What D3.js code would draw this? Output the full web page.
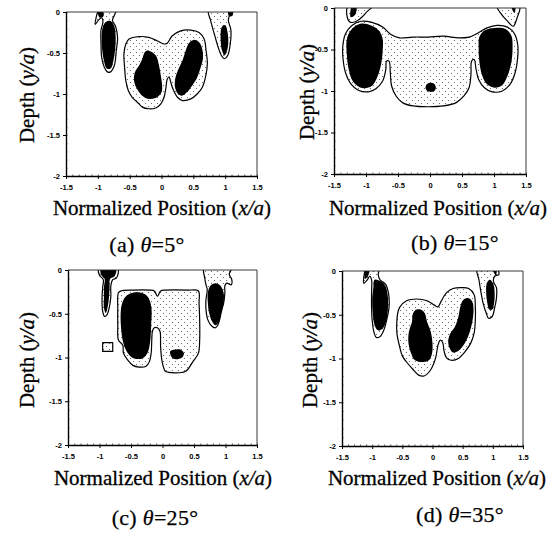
<!DOCTYPE html>
<html>
<head>
<meta charset="utf-8">
<script src="https://cdn.jsdelivr.net/npm/d3@7"></script>
<style>
  body { margin: 0; background: #fff; }
  svg { display: block; }
</style>
</head>
<body>
<svg id="fig" width="552" height="541"></svg>
<script>
// ---- axis ticks -----------------------------------------------------------
const xTicks = [-1.5, -1, -0.5, 0, 0.5, 1, 1.5];
const xTickLabels = ["-1.5", "-1", "-0.5", "0", "0.5", "1", "1.5"];
const yTicks = [0, -0.5, -1, -1.5, -2];
const yTickLabels = ["0", "-0.5", "-1", "-1.5", "-2"];

// ---- panels ---------------------------------------------------------------
const panelLetters = ["a", "b", "c", "d"];
const incidenceAngles = [5, 15, 25, 35];

// Contour polygons, vertices in (x/a, y/a).
// "outer" = lower level (stippled, outlined), "core" = upper level (solid).

// (a) theta = 5
const a_outer_left = [[-0.98,0.02],[-1.03,-0.08],[-1.04,-0.15],[-0.99,-0.10],[-0.94,-0.07],[-0.92,-0.12],[-0.95,-0.22],[-0.95,-0.39],[-0.94,-0.55],[-0.90,-0.67],[-0.85,-0.73],[-0.80,-0.73],[-0.74,-0.65],[-0.71,-0.47],[-0.69,-0.31],[-0.72,-0.18],[-0.77,-0.10],[-0.74,-0.04],[-0.72,0.02]];
const a_outer_mid = [[-0.51,-0.33],[-0.35,-0.30],[-0.20,-0.31],[-0.07,-0.35],[0.04,-0.39],[0.09,-0.38],[0.17,-0.29],[0.30,-0.23],[0.46,-0.22],[0.59,-0.25],[0.67,-0.33],[0.70,-0.47],[0.72,-0.63],[0.69,-0.80],[0.64,-0.92],[0.56,-1.00],[0.46,-1.06],[0.33,-1.08],[0.25,-1.04],[0.18,-0.94],[0.14,-0.84],[0.12,-0.79],[0.09,-0.82],[0.07,-0.92],[0.04,-1.04],[-0.01,-1.12],[-0.09,-1.17],[-0.20,-1.18],[-0.30,-1.16],[-0.38,-1.10],[-0.46,-1.04],[-0.52,-0.96],[-0.56,-0.84],[-0.58,-0.67],[-0.59,-0.51],[-0.56,-0.39]];
const a_outer_right = [[0.74,0.02],[0.77,-0.10],[0.83,-0.27],[0.89,-0.43],[0.94,-0.53],[0.99,-0.57],[1.04,-0.53],[1.08,-0.39],[1.09,-0.22],[1.05,-0.10],[1.07,-0.04],[1.12,0.02]];
const a_core_left = [[-0.87,-0.12],[-0.80,-0.11],[-0.74,-0.18],[-0.72,-0.31],[-0.73,-0.47],[-0.76,-0.61],[-0.80,-0.69],[-0.86,-0.69],[-0.90,-0.61],[-0.93,-0.47],[-0.94,-0.31],[-0.92,-0.18]];
const a_core_midL = [[-0.22,-0.47],[-0.09,-0.53],[-0.04,-0.65],[-0.01,-0.78],[0.01,-0.90],[0.00,-0.98],[-0.07,-1.04],[-0.17,-1.06],[-0.25,-1.05],[-0.33,-1.00],[-0.39,-0.93],[-0.43,-0.84],[-0.42,-0.74],[-0.35,-0.65],[-0.30,-0.57],[-0.27,-0.50]];
const a_core_midR = [[0.51,-0.34],[0.59,-0.37],[0.64,-0.45],[0.65,-0.57],[0.61,-0.69],[0.56,-0.80],[0.48,-0.90],[0.40,-0.98],[0.32,-1.02],[0.25,-0.99],[0.21,-0.91],[0.22,-0.80],[0.27,-0.69],[0.33,-0.59],[0.38,-0.47],[0.43,-0.38]];
const a_core_right = [[0.95,-0.18],[1.00,-0.16],[1.03,-0.22],[1.05,-0.35],[1.03,-0.47],[0.99,-0.53],[0.95,-0.47],[0.93,-0.35],[0.93,-0.24]];
const a_core_capL = [[-1.0,0.02],[-0.93,0.02],[-0.91,-0.05],[-0.97,-0.07]];
const a_core_capR = [[1.05,0.02],[1.12,0.02],[1.11,-0.05],[1.06,-0.05]];

// (b) theta = 15
const b_outer_main = [[-1.08,-0.16],[-0.92,-0.17],[-0.74,-0.23],[-0.61,-0.32],[-0.48,-0.36],[-0.27,-0.35],[-0.03,-0.35],[0.21,-0.34],[0.45,-0.36],[0.61,-0.35],[0.73,-0.31],[0.89,-0.24],[1.05,-0.21],[1.21,-0.23],[1.32,-0.31],[1.37,-0.44],[1.37,-0.60],[1.33,-0.78],[1.25,-0.92],[1.13,-1.00],[0.97,-1.01],[0.85,-0.96],[0.76,-0.86],[0.72,-0.74],[0.69,-0.62],[0.65,-0.64],[0.64,-0.80],[0.61,-0.96],[0.53,-1.06],[0.41,-1.14],[0.21,-1.18],[-0.03,-1.19],[-0.27,-1.18],[-0.43,-1.14],[-0.53,-1.06],[-0.60,-0.94],[-0.62,-0.78],[-0.64,-0.64],[-0.68,-0.64],[-0.69,-0.74],[-0.74,-0.88],[-0.84,-0.97],[-0.96,-1.01],[-1.12,-0.99],[-1.24,-0.91],[-1.32,-0.78],[-1.36,-0.60],[-1.36,-0.44],[-1.32,-0.31],[-1.22,-0.21]];
const b_outer_topL = [[-1.28,0.02],[-1.30,-0.08],[-1.25,-0.17],[-1.15,-0.16],[-1.05,-0.10],[-0.98,-0.04],[-0.90,0.02]];
const b_outer_topR = [[1.05,0.02],[1.12,-0.08],[1.20,-0.15],[1.30,-0.22],[1.36,-0.12],[1.40,0.02]];
const b_core_left = [[-1.09,-0.19],[-0.92,-0.21],[-0.80,-0.27],[-0.74,-0.37],[-0.74,-0.52],[-0.77,-0.70],[-0.84,-0.86],[-0.93,-0.95],[-1.08,-0.96],[-1.20,-0.89],[-1.27,-0.74],[-1.30,-0.56],[-1.30,-0.38],[-1.24,-0.27]];
const b_core_right = [[0.85,-0.27],[1.01,-0.24],[1.17,-0.25],[1.27,-0.33],[1.29,-0.48],[1.27,-0.66],[1.21,-0.82],[1.13,-0.93],[1.01,-0.96],[0.89,-0.92],[0.81,-0.80],[0.77,-0.64],[0.76,-0.48],[0.77,-0.35]];
const b_core_dot = [[0.0,-0.90],[0.06,-0.91],[0.09,-0.95],[0.08,-0.99],[0.03,-1.01],[-0.04,-1.00],[-0.07,-0.96],[-0.05,-0.92]];
const b_core_capL = [[-1.22,0.02],[-1.15,0.02],[-1.17,-0.08],[-1.24,-0.11]];
const b_core_capR = [[1.27,0.02],[1.33,0.02],[1.32,-0.06]];

// (c) theta = 25
const c_outer_left = [[-1.01,0.02],[-0.71,0.02],[-0.73,-0.09],[-0.79,-0.11],[-0.82,-0.18],[-0.82,-0.30],[-0.84,-0.41],[-0.88,-0.51],[-0.92,-0.53],[-0.95,-0.47],[-0.96,-0.34],[-0.95,-0.20],[-0.94,-0.11],[-1.00,-0.06]];
const c_outer_box = [[-0.95,-0.83],[-0.79,-0.83],[-0.79,-0.93],[-0.95,-0.93]];
const c_outer_mid = [[-0.66,-0.24],[-0.47,-0.23],[-0.21,-0.23],[-0.13,-0.24],[-0.08,-0.30],[-0.03,-0.24],[0.05,-0.23],[0.40,-0.23],[0.57,-0.24],[0.58,-0.38],[0.59,-0.57],[0.59,-0.80],[0.57,-0.95],[0.48,-1.05],[0.36,-1.16],[0.05,-1.16],[0.03,-1.14],[-0.01,-1.03],[-0.03,-0.88],[-0.04,-0.70],[-0.08,-0.66],[-0.13,-0.66],[-0.16,-0.70],[-0.17,-0.80],[-0.18,-0.95],[-0.21,-1.05],[-0.26,-1.10],[-0.37,-1.11],[-0.47,-1.09],[-0.55,-1.03],[-0.62,-0.95],[-0.63,-0.86],[-0.70,-0.80],[-0.71,-0.64],[-0.71,-0.45],[-0.70,-0.26]];
const c_outer_right = [[0.66,0.02],[0.67,-0.09],[0.69,-0.17],[0.71,-0.22],[0.69,-0.34],[0.69,-0.45],[0.72,-0.57],[0.78,-0.64],[0.84,-0.66],[0.89,-0.61],[0.92,-0.49],[0.97,-0.38],[0.99,-0.26],[0.99,-0.18],[1.02,-0.15],[1.09,-0.17],[1.10,-0.11],[1.06,-0.05],[1.09,0.02]];
const c_core_left = [[-0.98,0.02],[-0.74,0.02],[-0.76,-0.07],[-0.83,-0.10],[-0.84,-0.20],[-0.85,-0.32],[-0.87,-0.42],[-0.90,-0.49],[-0.93,-0.43],[-0.93,-0.32],[-0.93,-0.20],[-0.92,-0.10],[-0.97,-0.06]];
const c_core_midL = [[-0.58,-0.30],[-0.47,-0.26],[-0.34,-0.26],[-0.24,-0.30],[-0.18,-0.41],[-0.18,-0.64],[-0.20,-0.84],[-0.24,-0.95],[-0.32,-1.01],[-0.45,-1.01],[-0.55,-0.95],[-0.62,-0.84],[-0.66,-0.64],[-0.66,-0.45],[-0.63,-0.36]];
const c_core_midR = [[0.12,-0.93],[0.18,-0.91],[0.29,-0.91],[0.34,-0.95],[0.31,-1.00],[0.21,-1.02],[0.15,-1.00]];
const c_core_right = [[0.76,-0.18],[0.84,-0.15],[0.92,-0.18],[0.97,-0.26],[0.97,-0.38],[0.94,-0.49],[0.90,-0.59],[0.84,-0.63],[0.79,-0.59],[0.74,-0.49],[0.72,-0.38],[0.72,-0.26]];

// (d) theta = 35
const d_outer_left = [[-1.10,0.02],[-1.14,-0.08],[-1.14,-0.14],[-1.08,-0.10],[-1.04,-0.06],[-1.01,-0.10],[-1.01,-0.25],[-1.01,-0.41],[-1.00,-0.56],[-0.97,-0.70],[-0.93,-0.76],[-0.87,-0.75],[-0.81,-0.68],[-0.76,-0.56],[-0.72,-0.41],[-0.73,-0.25],[-0.78,-0.15],[-0.87,-0.10],[-0.90,-0.04],[-0.89,0.02]];
const d_outer_mid = [[-0.54,-0.41],[-0.43,-0.34],[-0.26,-0.32],[-0.09,-0.34],[0.03,-0.39],[0.09,-0.41],[0.14,-0.35],[0.23,-0.25],[0.34,-0.20],[0.49,-0.19],[0.60,-0.20],[0.69,-0.27],[0.71,-0.41],[0.71,-0.56],[0.69,-0.71],[0.63,-0.83],[0.53,-0.93],[0.43,-1.00],[0.31,-1.02],[0.23,-0.99],[0.19,-0.91],[0.17,-0.82],[0.13,-0.79],[0.09,-0.85],[0.06,-0.97],[0.02,-1.06],[-0.04,-1.14],[-0.14,-1.20],[-0.23,-1.19],[-0.33,-1.12],[-0.43,-1.04],[-0.50,-0.97],[-0.55,-0.85],[-0.59,-0.71],[-0.59,-0.56],[-0.57,-0.46]];
const d_outer_right = [[0.74,0.02],[0.77,-0.10],[0.80,-0.23],[0.84,-0.37],[0.89,-0.48],[0.93,-0.54],[0.99,-0.52],[1.03,-0.42],[1.06,-0.31],[1.06,-0.19],[1.01,-0.12],[1.03,-0.06],[1.10,-0.04],[1.07,0.02]];
const d_core_left = [[-0.96,-0.10],[-0.85,-0.12],[-0.78,-0.17],[-0.74,-0.29],[-0.74,-0.44],[-0.77,-0.58],[-0.83,-0.66],[-0.90,-0.68],[-0.96,-0.62],[-0.99,-0.48],[-1.00,-0.33],[-0.98,-0.19]];
const d_core_midL = [[-0.29,-0.45],[-0.20,-0.44],[-0.13,-0.48],[-0.09,-0.58],[-0.03,-0.69],[0.00,-0.83],[-0.01,-0.95],[-0.06,-1.02],[-0.15,-1.04],[-0.29,-1.02],[-0.36,-0.93],[-0.40,-0.81],[-0.39,-0.69],[-0.34,-0.58],[-0.33,-0.50]];
const d_core_midR = [[0.51,-0.33],[0.60,-0.31],[0.66,-0.35],[0.68,-0.44],[0.66,-0.58],[0.61,-0.71],[0.53,-0.83],[0.43,-0.91],[0.34,-0.93],[0.29,-0.89],[0.26,-0.81],[0.29,-0.72],[0.37,-0.64],[0.43,-0.52],[0.46,-0.41]];
const d_core_right = [[0.90,-0.14],[0.95,-0.10],[1.01,-0.15],[1.03,-0.25],[1.02,-0.37],[0.99,-0.44],[0.94,-0.44],[0.91,-0.37],[0.89,-0.25]];
const d_core_capL = [[-1.11,0.02],[-1.05,0.02],[-1.07,-0.06],[-1.12,-0.09]];
const d_core_capR = [[1.00,0.02],[1.06,0.02],[1.05,-0.05]];

// ---- layout (pixel frames and text anchors) -------------------------------
const layout = {
  a: { l: 66,  r: 257, t: 12,  b: 176, ylab: [27, 95],  xlab: [162, 215], cap: [147, 252] },
  b: { l: 334, r: 526, t: 8,   b: 174, ylab: [307, 92], xlab: [438, 215], cap: [455, 250] },
  c: { l: 68,  r: 257, t: 270, b: 445, ylab: [27, 360], xlab: [163, 485], cap: [155, 525] },
  d: { l: 342, r: 523, t: 271, b: 446, ylab: [310, 360], xlab: [437, 485], cap: [460, 522] }
};

const shapes = {
  a: { outer: [a_outer_left, a_outer_mid, a_outer_right],
       core: [a_core_left, a_core_midL, a_core_midR, a_core_right, a_core_capL, a_core_capR] },
  b: { outer: [b_outer_main, b_outer_topL, b_outer_topR],
       core: [b_core_left, b_core_right, b_core_dot, b_core_capL, b_core_capR] },
  c: { outer: [c_outer_left, c_outer_mid, c_outer_right, c_outer_box],
       core: [c_core_left, c_core_midL, c_core_midR, c_core_right] },
  d: { outer: [d_outer_left, d_outer_mid, d_outer_right],
       core: [d_core_left, d_core_midL, d_core_midR, d_core_right, d_core_capL, d_core_capR] }
};

const serif = "'Liberation Serif', 'Times New Roman', serif";
const tickFont = "'Liberation Sans Narrow', 'Liberation Sans', Arial, sans-serif";

const svg = d3.select("#fig");
const defs = svg.append("defs");

// stipple fill for the lower contour level
const stip = defs.append("pattern")
  .attr("id", "stipple").attr("patternUnits", "userSpaceOnUse")
  .attr("width", 6).attr("height", 6);
stip.append("rect").attr("width", 6).attr("height", 6).attr("fill", "#fff");
stip.append("circle").attr("cx", 1.5).attr("cy", 1.5).attr("r", 0.6).attr("fill", "#555");
stip.append("circle").attr("cx", 4.5).attr("cy", 4.5).attr("r", 0.6).attr("fill", "#555");

panelLetters.forEach((id, i) => {
  const L = layout[id];
  const x = d3.scaleLinear().domain([-1.5, 1.5]).range([L.l, L.r]);
  const y = d3.scaleLinear().domain([0, -2]).range([L.t, L.b]);

  const smooth = d3.line().x(d => x(d[0])).y(d => y(d[1]))
    .curve(d3.curveCatmullRomClosed.alpha(0.5));
  const straight = d3.line().x(d => x(d[0])).y(d => y(d[1]))
    .curve(d3.curveLinearClosed);
  const pathOf = d => (d === c_outer_box ? straight(d) : smooth(d));

  defs.append("clipPath").attr("id", "clip-" + id)
    .append("rect").attr("x", L.l).attr("y", L.t)
    .attr("width", L.r - L.l).attr("height", L.b - L.t);

  const g = svg.append("g").attr("class", "panel-" + id);
  const plot = g.append("g").attr("clip-path", `url(#clip-${id})`);

  plot.selectAll("path.outer").data(shapes[id].outer).join("path")
    .attr("class", "outer")
    .attr("d", pathOf)
    .attr("fill", "url(#stipple)")
    .attr("stroke", "#000").attr("stroke-width", 1.2)
    .attr("stroke-linejoin", "round");

  plot.selectAll("path.core").data(shapes[id].core).join("path")
    .attr("class", "core")
    .attr("d", pathOf)
    .attr("fill", "#000");

  // thin top / right frame
  g.append("path")
    .attr("d", `M${L.l},${L.t}H${L.r}V${L.b}`)
    .attr("fill", "none").attr("stroke", "#222").attr("stroke-width", 0.9);

  // minor ticks
  const minorY = d3.range(0, 21).map(k => -k / 10);
  const minorX = d3.range(0, 31).map(k => -1.5 + k / 10);
  g.append("g").attr("transform", `translate(${L.l},0)`)
    .call(d3.axisRight(y).tickValues(minorY).tickSize(1.5).tickFormat(""))
    .call(s => s.select(".domain").remove())
    .call(s => s.selectAll("line").attr("stroke", "#333").attr("stroke-width", 0.8));
  g.append("g").attr("transform", `translate(0,${L.b})`)
    .call(d3.axisTop(x).tickValues(minorX).tickSize(1.5).tickFormat(""))
    .call(s => s.select(".domain").remove())
    .call(s => s.selectAll("line").attr("stroke", "#333").attr("stroke-width", 0.8));

  // main axes
  const yAxis = g.append("g").attr("transform", `translate(${L.l},0)`)
    .call(d3.axisLeft(y).tickValues(yTicks).tickSize(3).tickSizeOuter(0)
      .tickPadding(3).tickFormat((d, k) => yTickLabels[k]));
  const xAxis = g.append("g").attr("transform", `translate(0,${L.b})`)
    .call(d3.axisBottom(x).tickValues(xTicks).tickSize(3).tickSizeOuter(0)
      .tickPadding(6).tickFormat((d, k) => xTickLabels[k]));
  [yAxis, xAxis].forEach(ax => {
    ax.select(".domain").attr("stroke", "#000").attr("stroke-width", 1.4);
    ax.selectAll(".tick line").attr("stroke", "#000").attr("stroke-width", 1);
    ax.selectAll(".tick text")
      .attr("font-family", tickFont).attr("font-weight", "bold")
      .attr("font-size", 7.5).attr("fill", "#000");
  });

  // axis titles
  const yl = g.append("text")
    .attr("transform", `translate(${L.ylab[0]},${L.ylab[1]}) rotate(-90)`)
    .attr("text-anchor", "middle").attr("dominant-baseline", "central")
    .attr("font-family", serif).attr("font-size", 21).attr("fill", "#000")
    .attr("stroke", "#000").attr("stroke-width", 0.3);
  yl.append("tspan").text("Depth (");
  yl.append("tspan").attr("font-style", "italic").text("y/a");
  yl.append("tspan").text(")");

  const xl = g.append("text")
    .attr("x", L.xlab[0]).attr("y", L.xlab[1])
    .attr("text-anchor", "middle")
    .attr("font-family", serif).attr("font-size", 21).attr("fill", "#000")
    .attr("stroke", "#000").attr("stroke-width", 0.3);
  xl.append("tspan").text("Normalized Position (");
  xl.append("tspan").attr("font-style", "italic").text("x/a");
  xl.append("tspan").text(")");

  const cap = g.append("text")
    .attr("x", L.cap[0]).attr("y", L.cap[1])
    .attr("text-anchor", "middle")
    .attr("font-family", serif).attr("font-size", 22).attr("fill", "#000")
    .attr("letter-spacing", 0.3)
    .attr("stroke", "#000").attr("stroke-width", 0.25);
  cap.append("tspan").text(`(${id}) `);
  cap.append("tspan").attr("font-style", "italic").text("\u03B8");
  cap.append("tspan").text(`=${incidenceAngles[i]}\u00B0`);
});
</script>
</body>
</html>
